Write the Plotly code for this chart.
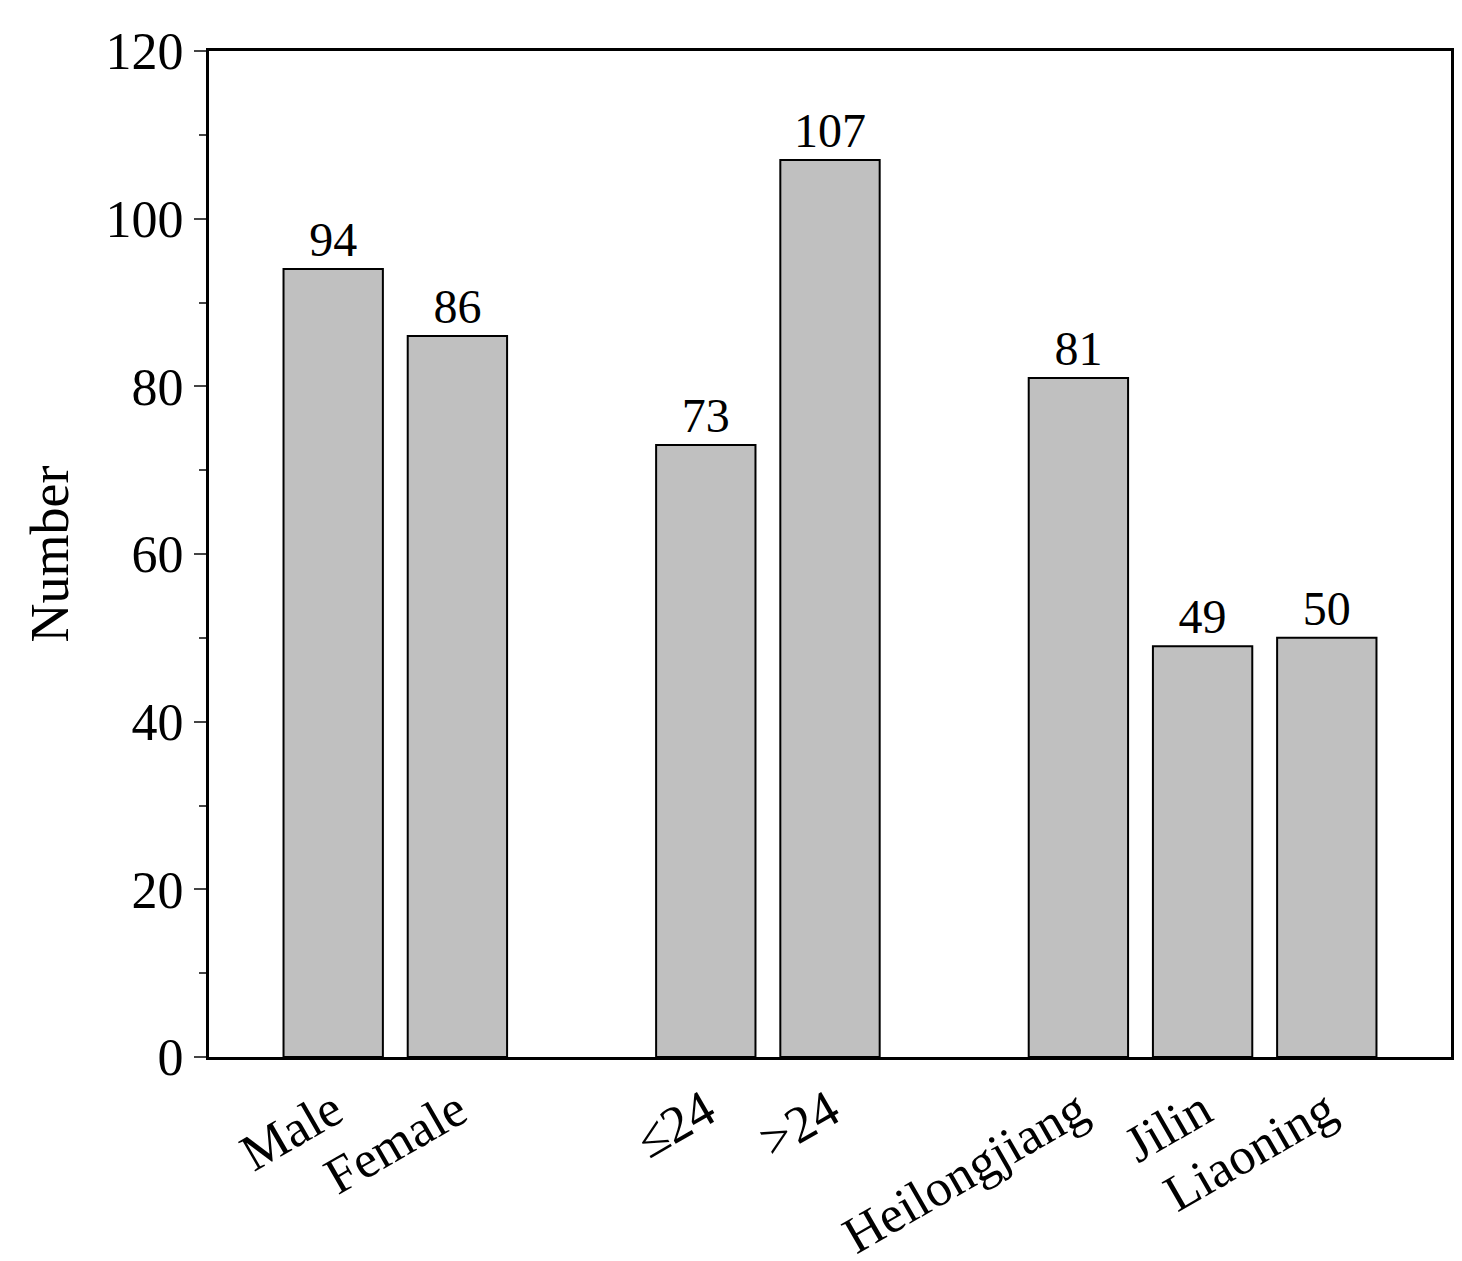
import plotly.graph_objects as go

categories = ["Male", "Female", "≤24", ">24", "Heilongjiang", "Jilin", "Liaoning"]
values = [94, 86, 73, 107, 81, 49, 50]
slots = [0, 1, 3, 4, 6, 7, 8]
y_ticks = [0, 20, 40, 60, 80, 100, 120]

font = "Liberation Serif, Times New Roman, serif"
fig = go.Figure(go.Bar(
    x=slots, y=values, width=0.8,
    marker=dict(color="#c0c0c0", line=dict(color="black", width=2)),
    text=[str(v) for v in values], textposition="outside",
    textfont=dict(family=font, size=48, color="black"), cliponaxis=False,
))
fig.update_layout(
    width=1462, height=1261, plot_bgcolor="white", paper_bgcolor="white",
    margin=dict(l=201, r=19, t=43, b=212, autoexpand=False), showlegend=False,
    font=dict(family=font, size=50, color="black"),
)
fig.update_xaxes(range=[-1, 9], tickvals=slots, ticktext=categories, tickangle=-30,
                 showline=True, linecolor="black", linewidth=3, mirror=True,
                 ticks="", showgrid=False, tickfont=dict(size=52, family=font))
fig.update_yaxes(range=[0, 120], tickvals=y_ticks, showline=True, linecolor="black",
                 linewidth=3, mirror=True, ticks="outside", ticklen=12, tickwidth=2,
                 minor=dict(dtick=10, ticks="outside", ticklen=7, tickwidth=2),
                 showgrid=False, zeroline=False, tickfont=dict(size=52, family=font),
                 title=dict(text="Number", font=dict(size=54, family=font), standoff=20))
fig.write_html("out.html")
